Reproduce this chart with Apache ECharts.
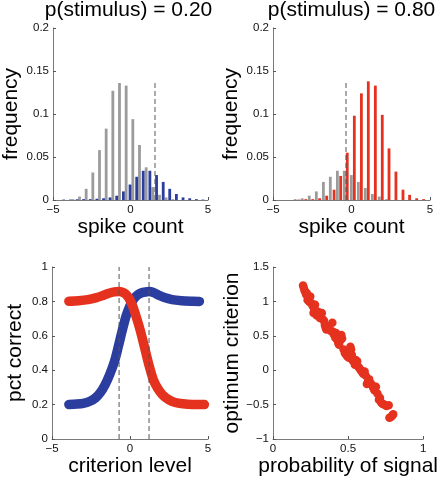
<!DOCTYPE html>
<html><head><meta charset="utf-8">
<script src="https://cdn.jsdelivr.net/npm/echarts@6/dist/echarts.min.js"></script>
<style>html,body{margin:0;padding:0;background:#fff}#c{width:440px;height:478px}</style>
</head><body><div id="c"></div>
<script>
// ---- data ----
const titles = ['p(stimulus) = 0.20', 'p(stimulus) = 0.80'];

// top-left: p = 0.20
const noiseBinsA = [-3.72, -3.29, -2.86, -2.43, -2.00, -1.57, -1.14, -0.71, -0.28, 0.15, 0.58, 1.01, 1.44, 1.87, 2.30, 2.73];
const noiseFreqA = [0.001, 0.004, 0.013, 0.032, 0.058, 0.083, 0.127, 0.136, 0.133, 0.094, 0.064, 0.038, 0.015, 0.006, 0.003, 0.001];
const signalBinsA = [-4.31, -3.88, -3.45, -3.03, -2.60, -2.17, -1.74, -1.32, -0.89, -0.46, -0.03, 0.40, 0.82, 1.25, 1.68, 2.11, 2.53, 2.96, 3.39, 3.82, 4.25, 4.67];
const signalFreqA = [0.0005, 0.0005, 0.0008, 0.001, 0.001, 0.0015, 0.002, 0.003, 0.005, 0.010, 0.018, 0.027, 0.034, 0.034, 0.029, 0.021, 0.013, 0.007, 0.003, 0.002, 0.001, 0.0005];
const criterionA = 1.58, criterionTopA = 0.136;

// top-right: p = 0.80
const noiseBinsB = [-3.59, -3.14, -2.69, -2.24, -1.79, -1.35, -0.90, -0.46, -0.01, 0.44, 0.88, 1.33, 1.77, 2.22];
const noiseFreqB = [0.001, 0.002, 0.005, 0.010, 0.021, 0.027, 0.034, 0.034, 0.029, 0.021, 0.014, 0.007, 0.004, 0.001];
const signalBinsB = [-3.35, -2.91, -2.47, -2.03, -1.58, -1.11, -0.69, -0.27, 0.18, 0.63, 1.07, 1.52, 1.96, 2.39, 2.83, 3.28, 3.70, 4.15, 4.59];
const signalFreqB = [0.0005, 0.001, 0.001, 0.002, 0.005, 0.012, 0.028, 0.055, 0.098, 0.124, 0.138, 0.133, 0.099, 0.060, 0.033, 0.012, 0.006, 0.002, 0.001];
const criterionB = -0.35, criterionTopB = 0.138;

// bottom-left: pct correct vs criterion
const critBlueX = [-3.92, -3.4, -3.0, -2.6, -2.2, -1.9, -1.6, -1.3, -1.0, -0.75, -0.5, -0.25, 0.0, 0.25, 0.5, 0.75, 1.0, 1.22, 1.5, 1.8, 2.2, 2.7, 3.3, 4.0, 4.45];
const pctBlue   = [0.201, 0.203, 0.207, 0.218, 0.240, 0.270, 0.315, 0.375, 0.450, 0.537, 0.630, 0.715, 0.775, 0.815, 0.838, 0.850, 0.855, 0.857, 0.852, 0.838, 0.822, 0.810, 0.804, 0.801, 0.800];
const critRedX  = [-3.92, -3.3, -2.7, -2.2, -1.8, -1.4, -1.0, -0.7, -0.4, -0.2, 0.0, 0.2, 0.4, 0.65, 0.9, 1.2, 1.5, 1.8, 2.1, 2.5, 2.9, 3.4, 4.0, 4.77];
const pctRed    = [0.801, 0.804, 0.810, 0.820, 0.832, 0.846, 0.855, 0.857, 0.850, 0.835, 0.808, 0.765, 0.710, 0.634, 0.545, 0.435, 0.343, 0.290, 0.255, 0.227, 0.212, 0.205, 0.201, 0.200];
const optimumLines = [-0.70, 1.22];

// bottom-right: optimum criterion vs probability of signal
const probSignal = [0.200,0.205,0.210,0.215,0.220,0.225,0.230,0.235,0.240,0.248,0.250,0.258,0.265,0.270,0.275,0.280,0.285,0.290,0.300,0.305,0.312,0.320,0.325,0.330,0.340,0.345,0.350,0.355,0.360,0.368,0.375,0.385,0.395,0.400,0.405,0.415,0.420,0.428,0.435,0.440,0.448,0.455,0.460,0.470,0.478,0.485,0.490,0.495,0.505,0.515,0.520,0.525,0.530,0.540,0.545,0.550,0.560,0.568,0.575,0.585,0.590,0.600,0.610,0.618,0.625,0.632,0.640,0.650,0.660,0.668,0.675,0.685,0.695,0.705,0.712,0.720,0.730,0.740,0.755,0.770,0.775,0.785,0.795,0.800];
const optCriterion = [1.23,1.20,1.16,1.14,1.10,1.12,1.02,1.05,1.00,1.07,0.98,0.97,0.93,0.83,0.88,0.95,0.86,0.80,0.85,0.78,0.76,0.81,0.83,0.74,0.72,0.66,0.62,0.59,0.64,0.60,0.61,0.57,0.69,0.56,0.52,0.47,0.54,0.44,0.39,0.37,0.43,0.51,0.46,0.30,0.25,0.23,0.27,0.20,0.18,0.34,0.30,0.22,0.14,0.12,0.08,0.15,0.13,0.05,0.03,0.00,-0.02,-0.05,-0.02,-0.08,-0.20,-0.17,-0.13,-0.19,-0.22,-0.26,-0.29,-0.24,-0.34,-0.43,-0.40,-0.47,-0.49,-0.50,-0.52,-0.51,-0.69,-0.68,-0.66,-0.64];

// ---- styling ----
const FONT = 'Liberation Sans, Arial, Helvetica, sans-serif';
const GRAY = '#9b9b9b', BLUE = '#2b3d9f', RED = '#e5321f', DASH = '#555555';
const zip = (a, b) => a.map((v, i) => [v, b[i]]);
const minus = v => String(v).replace('-', '\u2212');

function barItem(params, api) {
  const top = api.coord([api.value(0), api.value(1)]);
  const base = api.coord([api.value(0), 0]);
  const w = 2.8;
  return { type: 'rect', shape: { x: top[0] - w / 2, y: top[1], width: w, height: base[1] - top[1] },
           style: { fill: api.visual('color') } };
}
function hist(idx, bins, freq, color) {
  return { type: 'custom', xAxisIndex: idx, yAxisIndex: idx, renderItem: barItem,
           encode: { x: 0, y: 1 }, data: zip(bins, freq), itemStyle: { color: color }, silent: true };
}
function vline(idx, x, y0, y1) {
  return { type: 'line', xAxisIndex: idx, yAxisIndex: idx, data: [[x, y0], [x, y1]], symbol: 'none',
           lineStyle: { color: DASH, width: 1, type: [5, 3] }, z: 5, silent: true };
}
function axis(idx, min, max, interval, name, gap) {
  return { gridIndex: idx, type: 'value', min, max, interval, name, nameLocation: 'middle', nameGap: gap,
    nameTextStyle: { fontFamily: FONT, fontSize: 21, color: '#000' },
    axisLine: { show: true, onZero: false, lineStyle: { color: '#7a7a7a', width: 1 } },
    axisTick: { show: true, inside: true, length: 3, lineStyle: { color: '#555' } },
    axisLabel: { fontFamily: FONT, fontSize: 11.5, color: '#111', margin: 4, formatter: minus },
    splitLine: { show: false } };
}

const chart = echarts.init(document.getElementById('c'), null, { renderer: 'canvas' });
chart.setOption({
  backgroundColor: '#fff',
  animation: false,
  graphic: [
    { type: 'text', x: 128.5, y: 10, style: { text: titles[0], fontFamily: FONT, fontSize: 21, fill: '#000', align: 'center', verticalAlign: 'middle' } },
    { type: 'text', x: 351.5, y: 10, style: { text: titles[1], fontFamily: FONT, fontSize: 21, fill: '#000', align: 'center', verticalAlign: 'middle' } }
  ],
  grid: [
    { left: 52, top: 28, width: 156, height: 172 },
    { left: 273, top: 28, width: 157, height: 172 },
    { left: 52, top: 267, width: 156, height: 172 },
    { left: 273, top: 267, width: 156, height: 172 }
  ],
  xAxis: [
    axis(0, -5, 5, 5, 'spike count', 16),
    axis(1, -5, 5, 5, 'spike count', 16),
    axis(2, -5, 5, 5, 'criterion level', 11),
    axis(3, 0, 1, 0.5, 'probability of signal', 11)
  ],
  yAxis: [
    axis(0, 0, 0.2, 0.05, 'frequency', 31),
    axis(1, 0, 0.2, 0.05, 'frequency', 31),
    axis(2, 0, 1, 0.2, 'pct correct', 26),
    axis(3, -1, 1.5, 0.5, 'optimum criterion', 26)
  ],
  series: [
    hist(0, noiseBinsA, noiseFreqA, GRAY),
    hist(0, signalBinsA, signalFreqA, BLUE),
    vline(0, criterionA, 0, criterionTopA),
    hist(1, noiseBinsB, noiseFreqB, GRAY),
    hist(1, signalBinsB, signalFreqB, RED),
    vline(1, criterionB, 0, criterionTopB),
    { type: 'line', xAxisIndex: 2, yAxisIndex: 2, data: zip(critBlueX, pctBlue), smooth: 0.3, symbol: 'none',
      lineStyle: { color: BLUE, width: 9.5, cap: 'round', join: 'round' }, silent: true },
    { type: 'line', xAxisIndex: 2, yAxisIndex: 2, data: zip(critRedX, pctRed), smooth: 0.3, symbol: 'none',
      lineStyle: { color: RED, width: 9.5, cap: 'round', join: 'round' }, silent: true },
    vline(2, optimumLines[0], 0, 1),
    vline(2, optimumLines[1], 0, 1),
    { type: 'scatter', xAxisIndex: 3, yAxisIndex: 3, data: zip(probSignal, optCriterion), symbol: 'circle',
      symbolSize: 8.5, itemStyle: { color: RED, opacity: 1 }, silent: true }
  ]
});
</script>
</body></html>
